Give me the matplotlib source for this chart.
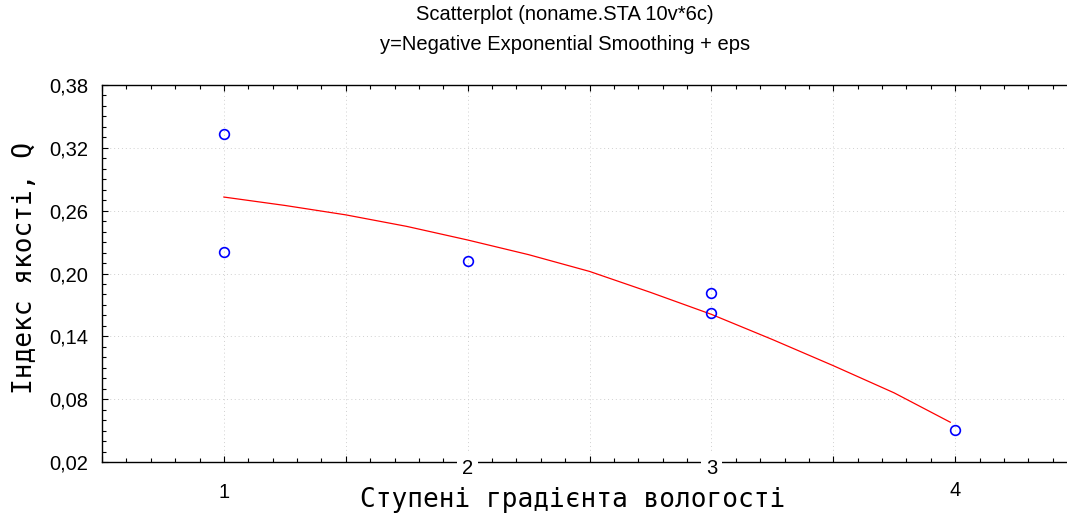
import matplotlib
matplotlib.use("Agg")
import matplotlib.pyplot as plt
from matplotlib.ticker import MultipleLocator, FixedLocator, NullFormatter

# Data
x_points = [1, 1, 2, 3, 3, 4]
y_points = [0.333, 0.221, 0.212, 0.181, 0.162, 0.051]

curve_x = [1.0, 1.25, 1.5, 1.75, 2.0, 2.25, 2.5, 2.75, 3.0, 3.25, 3.5, 3.75, 3.98]
curve_y = [0.273, 0.265, 0.256, 0.245, 0.232, 0.218, 0.202, 0.182, 0.161, 0.137, 0.112, 0.086, 0.058]

x_tick_vals = [1, 2, 3, 4]
x_tick_labels = ["1", "2", "3", "4"]
y_ticks = [0.02, 0.08, 0.14, 0.20, 0.26, 0.32, 0.38]
y_tick_labels = ["0,02", "0,08", "0,14", "0,20", "0,26", "0,32", "0,38"]

title1 = "Scatterplot (noname.STA 10v*6c)"
title2 = "y=Negative Exponential Smoothing + eps"
xlabel = "Ступені градієнта вологості"
ylabel = "Індекс якості, Q"

W, H = 1067, 517
fig = plt.figure(figsize=(W / 100, H / 100), dpi=100)
left, right, top, bottom = 102, 1077, 85, 462
ax = fig.add_axes([left / W, (H - bottom) / H, (right - left) / W, (bottom - top) / H])

ax.set_xlim(0.5, 4.5)
ax.set_ylim(0.02, 0.38)

ax.plot(curve_x, curve_y, color="#ff0000", lw=0.9, zorder=3)
ax.plot(x_points, y_points, linestyle="none", marker="o", markersize=7,
        markerfacecolor="none", markeredgecolor="#0000ff", markeredgewidth=1.2, zorder=4)

# ticks
ax.xaxis.set_major_locator(MultipleLocator(0.5))
ax.xaxis.set_minor_locator(MultipleLocator(0.1))
ax.xaxis.set_major_formatter(NullFormatter())
ax.yaxis.set_major_locator(FixedLocator(y_ticks))
ax.yaxis.set_minor_locator(MultipleLocator(0.01))
ax.set_yticklabels(y_tick_labels)
ax.tick_params(axis="both", which="both", direction="in", top=True, right=False,
               bottom=True, left=True, width=0.8, color="black")
ax.tick_params(axis="both", which="major", length=4)
ax.tick_params(axis="both", which="minor", length=3)
ax.tick_params(axis="y", labelsize=14.5, pad=10)
for lab in ax.get_yticklabels():
    lab.set_fontfamily("Liberation Sans")

ax.grid(True, which="major", linestyle=(0, (1, 3)), color="#d0d0d0", lw=0.7)
ax.spines["right"].set_visible(False)
for s in ["left", "bottom", "top"]:
    ax.spines[s].set_linewidth(1.0)

# staggered x tick labels (as in source)
x_label_offsets = [-30, -6, -6, -28]
for xv, lab, off in zip(x_tick_vals, x_tick_labels, x_label_offsets):
    ax.annotate(lab, xy=(xv, 0.02), xycoords="data", xytext=(0, off),
                textcoords="offset pixels", ha="center", va="center",
                fontsize=14.5, family="Liberation Sans", zorder=6,
                annotation_clip=False,
                bbox=dict(boxstyle="square,pad=0.25", fc="white", ec="none"))

fig.text(565 / W, 1 - 15 / H, title1, ha="center", va="center",
         fontsize=14.5, family="Liberation Sans")
fig.text(565 / W, 1 - 45 / H, title2, ha="center", va="center",
         fontsize=14.5, family="Liberation Sans")
fig.text(573 / W, 1 - 500 / H, xlabel, ha="center", va="center",
         fontsize=18.8, family="DejaVu Sans Mono")
fig.text(25 / W, 1 - 268 / H, ylabel, ha="center", va="center", rotation=90,
         fontsize=18.8, family="DejaVu Sans Mono")

fig.savefig("out.png", dpi=100)
